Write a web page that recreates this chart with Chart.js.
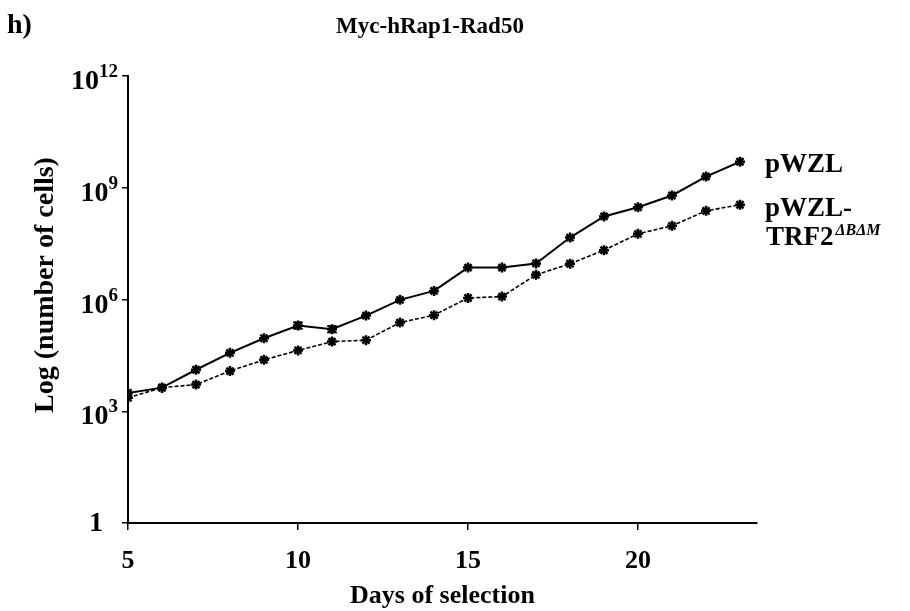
<!DOCTYPE html>
<html>
<head>
<meta charset="utf-8">
<script src="https://cdn.jsdelivr.net/npm/chart.js@4.4.0/dist/chart.umd.min.js"></script>
<style>
  html, body { margin: 0; padding: 0; background: #fff; }
  #wrap { width: 910px; height: 611px; position: relative; }
</style>
</head>
<body>
<div id="wrap"><canvas id="graf"></canvas></div>
<script>
// dagar och antal celler
const days = [5, 6, 7, 8, 9, 10, 11, 12, 13, 14, 15, 16, 17, 18, 19, 20, 21, 22, 23];
const pwzl = [3.1e3, 4.3e3, 1.3e4, 3.7e4, 9.1e4, 2.0e5, 1.6e5, 3.7e5, 9.8e5, 1.7e6,
              7.2e6, 7.2e6, 9.3e6, 4.6e7, 1.7e8, 3.0e8, 6.2e8, 2.0e9, 5.0e9];
const trf2 = [2.3e3, 4.3e3, 5.2e3, 1.2e4, 2.4e4, 4.3e4, 7.4e4, 8.1e4, 2.4e5, 3.8e5,
              1.1e6, 1.2e6, 4.6e6, 9.1e6, 2.1e7, 5.8e7, 9.5e7, 2.4e8, 3.5e8];
// felstaplar för pWZL (bara dag 10 och 11 syns)
const pwzlErrLow  = [null, null, null, null, null, 1.65e5, 1.3e5, null, null, null, null, null, null, null, null, null, null, null, null];
const pwzlErrHigh = [null, null, null, null, null, 2.45e5, 1.95e5, null, null, null, null, null, null, null, null, null, null, null, null];

const xTicks = [5, 10, 15, 20];
const yExps = [0, 3, 6, 9, 12];
const titleText = 'Myc-hRap1-Rad50';
const panelLabel = 'h)';
const xTitle = 'Days of selection';
const yTitle = 'Log (number of cells)';

const serif = '"Liberation Serif", "Times New Roman", serif';

const extras = {
  id: 'extras',
  afterDatasetsDraw(chart) {
    const ctx = chart.ctx, xs = chart.scales.x, ys = chart.scales.y;
    ctx.save();
    ctx.strokeStyle = '#000';
    ctx.lineWidth = 1.5;
    for (let i = 0; i < days.length; i++) {
      if (pwzlErrLow[i] == null) continue;
      const x = xs.getPixelForValue(days[i]);
      const y1 = ys.getPixelForValue(pwzlErrLow[i]);
      const y2 = ys.getPixelForValue(pwzlErrHigh[i]);
      ctx.beginPath();
      ctx.moveTo(x, y1); ctx.lineTo(x, y2);
      ctx.moveTo(x - 5, y1); ctx.lineTo(x + 5, y1);
      ctx.moveTo(x - 5, y2); ctx.lineTo(x + 5, y2);
      ctx.stroke();
    }
    ctx.restore();
  },
  afterDraw(chart) {
    const ctx = chart.ctx, xs = chart.scales.x, ys = chart.scales.y, a = chart.chartArea;
    ctx.save();
    ctx.fillStyle = '#000';

    // panel och titel
    ctx.font = 'bold 28px ' + serif;
    ctx.textAlign = 'left';
    ctx.textBaseline = 'alphabetic';
    ctx.fillText(panelLabel, 7, 33);
    ctx.font = 'bold 23px ' + serif;
    ctx.textAlign = 'center';
    ctx.fillText(titleText, 430, 33);

    // y-etiketter med exponent
    yExps.forEach(e => {
      const y = ys.getPixelForValue(Math.pow(10, e));
      if (e === 0) {
        ctx.font = 'bold 28px ' + serif;
        ctx.textAlign = 'right';
        ctx.textBaseline = 'middle';
        ctx.fillText('1', 103, y + 1);
        return;
      }
      ctx.textBaseline = 'alphabetic';
      ctx.font = 'bold 19px ' + serif;
      const sup = String(e);
      const supW = ctx.measureText(sup).width;
      ctx.textAlign = 'left';
      ctx.fillText(sup, 118 - supW, y + 1);
      ctx.font = 'bold 28px ' + serif;
      ctx.textAlign = 'right';
      ctx.fillText('10', 118 - supW, y + 13);
    });

    // x-etiketter
    ctx.font = 'bold 26px ' + serif;
    ctx.textAlign = 'center';
    ctx.textBaseline = 'middle';
    xTicks.forEach(v => ctx.fillText(String(v), xs.getPixelForValue(v), 561));
    ctx.font = 'bold 26px ' + serif;
    ctx.fillText(xTitle, (a.left + a.right) / 2, 596);

    // y-titel
    ctx.save();
    ctx.translate(46, 285);
    ctx.rotate(-Math.PI / 2);
    ctx.font = 'bold 28px ' + serif;
    ctx.fillText(yTitle, 0, 0);
    ctx.restore();

    // serienamn vid sista punkten
    const last = days.length - 1;
    const yA = ys.getPixelForValue(pwzl[last]);
    const yB = ys.getPixelForValue(trf2[last]);
    ctx.textAlign = 'left';
    ctx.textBaseline = 'alphabetic';
    ctx.font = 'bold 27px ' + serif;
    ctx.fillText('pWZL', 765, yA + 10);
    ctx.fillText('pWZL-', 765, yB + 11);
    ctx.fillText('TRF2', 766, yB + 40);
    const w = ctx.measureText('TRF2').width;
    ctx.font = 'italic bold 16px ' + serif;
    ctx.fillText('\u0394B\u0394M', 766 + w + 2, yB + 30);
    ctx.restore();
  }
};

const chart = new Chart(document.getElementById('graf'), {
  type: 'line',
  data: {
    datasets: [{
      label: 'pWZL',
      data: days.map((d, i) => ({ x: d, y: pwzl[i] })),
      borderColor: '#000',
      backgroundColor: '#000',
      borderWidth: 2,
      pointStyle: 'star',
      pointRadius: 5,
      pointBorderWidth: 2.5,
      tension: 0
    }, {
      label: 'pWZL-TRF2',
      data: days.map((d, i) => ({ x: d, y: trf2[i] })),
      borderColor: '#000',
      backgroundColor: '#000',
      borderWidth: 1.6,
      borderDash: [4, 2],
      pointStyle: 'star',
      pointRadius: 5,
      pointBorderWidth: 2.5,
      tension: 0
    }]
  },
  options: {
    responsive: true,
    maintainAspectRatio: false,
    animation: false,
    layout: { padding: { left: 0, top: 76, right: 153, bottom: 0 } },
    plugins: { legend: { display: false }, title: { display: false }, tooltip: { enabled: false } },
    scales: {
      x: {
        type: 'linear',
        min: 5,
        max: 23.5,
        afterBuildTicks: s => { s.ticks = xTicks.map(v => ({ value: v })); },
        afterFit: s => { s.height = 88; },
        ticks: { display: false },
        grid: { drawOnChartArea: false, drawTicks: true, tickLength: 7, color: '#000', lineWidth: 1.5 },
        border: { color: '#000', width: 2 }
      },
      y: {
        type: 'logarithmic',
        min: 1,
        max: 1e12,
        afterBuildTicks: s => { s.ticks = yExps.map(e => ({ value: Math.pow(10, e) })); },
        afterFit: s => { s.width = 128; },
        ticks: { display: false },
        grid: { drawOnChartArea: false, drawTicks: true, tickLength: 6, color: '#000', lineWidth: 1.5 },
        border: { color: '#000', width: 2 }
      }
    }
  },
  plugins: [extras]
});
</script>
</body>
</html>
